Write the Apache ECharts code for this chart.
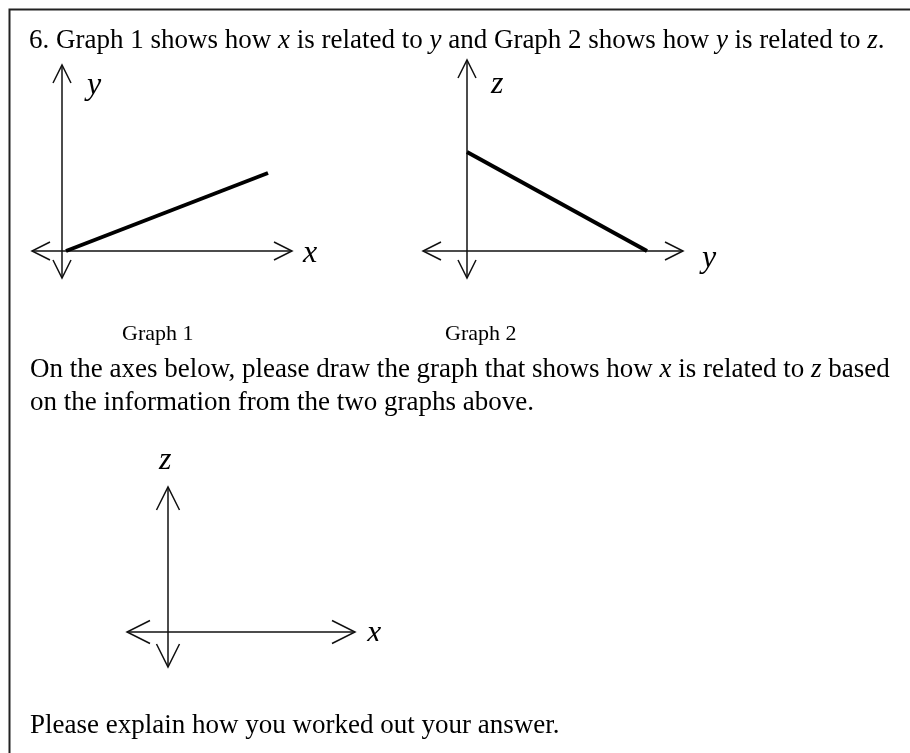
<!DOCTYPE html>
<html>
<head>
<meta charset="utf-8">
<title>Graph question</title>
<script src="https://cdn.jsdelivr.net/npm/echarts@6/dist/echarts.min.js"></script>
<style>
  html, body { margin: 0; padding: 0; background: #fff; }
  #chart { width: 910px; height: 753px; }
</style>
</head>
<body>
<div id="chart"></div>
<script>
// Graph 1: y against x (rising straight line from the origin)
const graph1X = [0.2, 10.3];
const graph1Y = [0, 3.9];
// Graph 2: z against y (falling straight line down to the y axis)
const graph2Y = [0, 9.0];
const graph2Z = [4.95, 0];

// Axis extents [min, max] for each panel: horizontal, vertical
const panel1H = [-1.5, 11.5];
const panel1V = [-1.35, 9.3];
const panel2H = [-2.2, 10.8];
const panel2V = [-1.35, 9.55];
const panel3H = [-2.05, 9.35];
const panel3V = [-1.75, 7.25];

const SERIF = "'Liberation Serif', 'Times New Roman', Times, serif";
const INK = '#111';

// Double-headed axes with open chevron arrow tips, placed through the grid's scales
function axesRenderer(hRange, vRange, headLen, headHalf) {
  return function (params, api) {
    const left = api.coord([hRange[0], 0]);
    const right = api.coord([hRange[1], 0]);
    const top = api.coord([0, vRange[1]]);
    const bottom = api.coord([0, vRange[0]]);
    const style = { stroke: INK, lineWidth: 1.5, fill: null };
    function chevron(tip, dx, dy) {
      // (dx, dy) is the pointing direction
      const nx = -dy, ny = dx;
      return {
        type: 'polyline',
        shape: { points: [
          [tip[0] - dx * headLen + nx * headHalf, tip[1] - dy * headLen + ny * headHalf],
          [tip[0], tip[1]],
          [tip[0] - dx * headLen - nx * headHalf, tip[1] - dy * headLen - ny * headHalf]
        ] },
        style: style
      };
    }
    return {
      type: 'group',
      children: [
        { type: 'line', shape: { x1: left[0], y1: left[1], x2: right[0], y2: right[1] }, style: style },
        { type: 'line', shape: { x1: top[0], y1: top[1], x2: bottom[0], y2: bottom[1] }, style: style },
        chevron(left, -1, 0),
        chevron(right, 1, 0),
        chevron(top, 0, -1),
        chevron(bottom, 0, 1)
      ]
    };
  };
}

function pairs(xs, ys) {
  return xs.map(function (v, i) { return [v, ys[i]]; });
}

function valueAxis(range, idx) {
  return { type: 'value', gridIndex: idx, min: range[0], max: range[1], show: false };
}

function label(text, x, y, size, italic, align) {
  return {
    type: 'text',
    x: x, y: y,
    z: 10,
    style: {
      text: text,
      fill: '#000',
      fontSize: size,
      fontFamily: SERIF,
      fontStyle: italic ? 'italic' : 'normal',
      align: align || 'left',
      verticalAlign: 'middle',
      rich: {
        i: { fontStyle: 'italic', fontSize: size, fontFamily: SERIF, fill: '#000' }
      }
    }
  };
}

const chart = echarts.init(document.getElementById('chart'), null, { renderer: 'canvas' });

chart.setOption({
  backgroundColor: '#fff',
  animation: false,
  grid: [
    { left: 32, top: 65, width: 260, height: 213 },
    { left: 423, top: 60, width: 260, height: 218 },
    { left: 127, top: 487, width: 228, height: 180 }
  ],
  xAxis: [valueAxis(panel1H, 0), valueAxis(panel2H, 1), valueAxis(panel3H, 2)],
  yAxis: [valueAxis(panel1V, 0), valueAxis(panel2V, 1), valueAxis(panel3V, 2)],
  series: [
    { type: 'custom', xAxisIndex: 0, yAxisIndex: 0, silent: true, data: [[0, 0]],
      renderItem: axesRenderer(panel1H, panel1V, 18, 9) },
    { type: 'custom', xAxisIndex: 1, yAxisIndex: 1, silent: true, data: [[0, 0]],
      renderItem: axesRenderer(panel2H, panel2V, 18, 9) },
    { type: 'custom', xAxisIndex: 2, yAxisIndex: 2, silent: true, data: [[0, 0]],
      renderItem: axesRenderer(panel3H, panel3V, 23, 11.5) },
    { type: 'line', xAxisIndex: 0, yAxisIndex: 0, silent: true, showSymbol: false,
      data: pairs(graph1X, graph1Y), lineStyle: { color: '#000', width: 4 } },
    { type: 'line', xAxisIndex: 1, yAxisIndex: 1, silent: true, showSymbol: false,
      data: pairs(graph2Y, graph2Z), lineStyle: { color: '#000', width: 4 } }
  ],
  graphic: [
    // frame around the question
    { type: 'rect', shape: { x: 9.5, y: 9.5, width: 1000, height: 1000 },
      style: { stroke: '#222', lineWidth: 2, fill: null }, z: 1 },
    label('6. Graph 1 shows how {i|x} is related to {i|y} and Graph 2 shows how {i|y} is related to {i|z}.', 29, 41, 27),
    label('y', 87, 86, 32, true),
    label('x', 303, 254, 32, true),
    label('z', 491, 85, 32, true),
    label('y', 702, 259, 32, true),
    label('Graph 1', 122, 334, 22),
    label('Graph 2', 445, 334, 22),
    label('On the axes below, please draw the graph that shows how {i|x} is related to {i|z} based', 30, 370, 27),
    label('on the information from the two graphs above.', 30, 403, 27),
    label('z', 159, 461, 32, true),
    label('x', 367, 634, 32, true),
    { type: 'rect', z: 11, shape: { x: 362, y: 641, width: 26, height: 14 },
      style: { fill: '#fff', stroke: null } },
    label('Please explain how you worked out your answer.', 30, 726, 27)
  ]
});
</script>
</body>
</html>
